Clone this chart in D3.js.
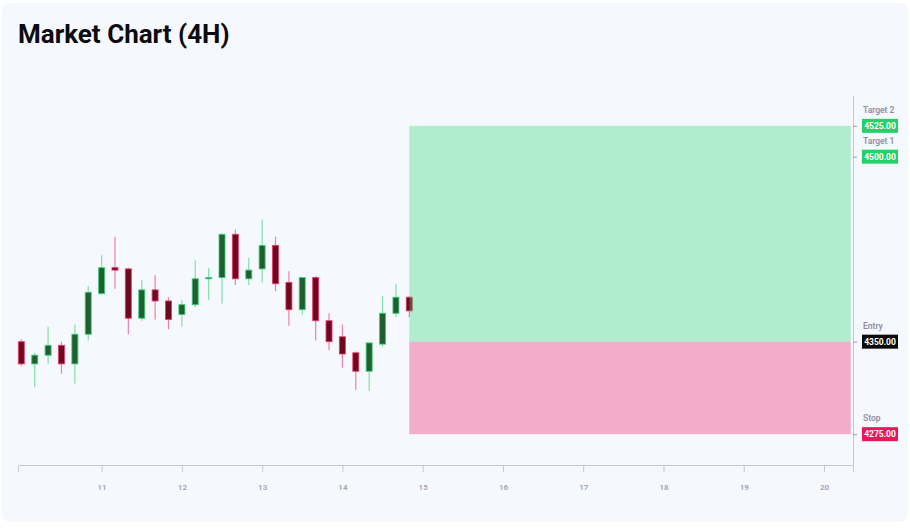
<!DOCTYPE html>
<html>
<head>
<meta charset="utf-8">
<script src="https://cdn.jsdelivr.net/npm/d3@7"></script>
<style>
  html, body { margin: 0; padding: 0; background: #ffffff; }
  svg { display: block; font-family: Roboto, "Open Sans", sans-serif; }
</style>
</head>
<body>
<svg id="chart" width="910" height="531"></svg>
<script>
// 4H candles, first one at 10th 00:00
const candleStart = "2024-01-10T00:00:00Z";
const opens  = [4350, 4332, 4339, 4347, 4332, 4356, 4389, 4410, 4409, 4369, 4392, 4383, 4372, 4380, 4401,
                4402, 4437, 4401, 4409, 4428, 4398, 4376, 4402, 4367, 4354, 4341, 4326, 4348, 4373, 4386];
const highs  = [4352, 4341, 4362, 4350, 4364, 4395, 4420, 4435, 4410, 4400, 4404, 4386, 4384, 4416, 4410,
                4438, 4441, 4418, 4449, 4435, 4407, 4402, 4403, 4373, 4364, 4342, 4349, 4387, 4397, 4387];
const lows   = [4330, 4313, 4332, 4324, 4316, 4351, 4388, 4393, 4356, 4367, 4368, 4360, 4362, 4378, 4384,
                4381, 4396, 4396, 4398, 4391, 4363, 4372, 4351, 4343, 4329, 4311, 4310, 4346, 4370, 4370];
const closes = [4332, 4339, 4347, 4332, 4356, 4390, 4410, 4408, 4369, 4392, 4383, 4368, 4380, 4401, 4402,
                4437, 4401, 4408, 4428, 4397, 4376, 4402, 4367, 4350, 4340, 4326, 4349, 4373, 4386, 4375];

// trade levels
const levelNames  = ["Target 2", "Target 1", "Entry", "Stop"];
const levelValues = [4525, 4500, 4350, 4275];
const zoneEnd = "2024-01-20T08:00:00Z";

// axis
const dayTicks = [11, 12, 13, 14, 15, 16, 17, 18, 19, 20];
const priceDomain = [4250, 4550];
const timeDomain = ["2024-01-09T23:00:00Z", "2024-01-20T08:40:00Z"];

const levelColors = { "Target 2": "#22d168", "Target 1": "#22d168", "Entry": "#0a0a0a", "Stop": "#f2145a" };

const svg = d3.select("#chart");
const W = 910, H = 531;
const plot = { left: 18, right: 853, top: 95, bottom: 465 };

// card
svg.append("rect")
  .attr("x", 2).attr("y", 3)
  .attr("width", W - 4).attr("height", H - 12)
  .attr("rx", 8)
  .attr("fill", "#f5f8fd");

svg.append("text")
  .attr("x", 18).attr("y", 43)
  .attr("font-size", 26)
  .attr("font-weight", 700)
  .attr("fill", "#0b0b10")
  .text("Market Chart (4H)");

const xScale = d3.scaleUtc()
  .domain(timeDomain.map(d => new Date(d)))
  .range([plot.left, plot.right]);

const yScale = d3.scaleLinear()
  .domain(priceDomain)
  .range([plot.bottom, plot.top]);

const t0 = new Date(candleStart);
const candles = opens.map((o, i) => ({
  date: d3.utcHour.offset(t0, i * 4),
  open: o, high: highs[i], low: lows[i], close: closes[i]
}));

const up = { fill: "#20602f", stroke: "#35cf76" };
const down = { fill: "#6b0a1d", stroke: "#f0306c" };

const g = svg.append("g");

// wicks
g.selectAll(".wick")
  .data(candles)
  .enter()
  .append("line")
  .attr("class", "wick")
  .attr("x1", d => xScale(d.date))
  .attr("x2", d => xScale(d.date))
  .attr("y1", d => yScale(d.high))
  .attr("y2", d => yScale(d.low))
  .attr("stroke", d => (d.close >= d.open ? up : down).stroke)
  .attr("stroke-opacity", 0.6)
  .attr("stroke-width", 1.2);

// bodies
g.selectAll(".body")
  .data(candles)
  .enter()
  .append("rect")
  .attr("class", "body")
  .attr("x", d => xScale(d.date) - 3)
  .attr("width", 6)
  .attr("y", d => yScale(Math.max(d.open, d.close)))
  .attr("height", d => Math.max(1, Math.abs(yScale(d.open) - yScale(d.close))))
  .attr("fill", d => (d.close >= d.open ? up : down).fill)
  .attr("stroke", d => (d.close >= d.open ? up : down).stroke)
  .attr("stroke-opacity", 0.8)
  .attr("stroke-width", 1);

// profit / loss zones
const lastDate = candles[candles.length - 1].date;
const zx0 = xScale(lastDate), zx1 = xScale(new Date(zoneEnd));
const entry = levelValues[2], target2 = levelValues[0], stop = levelValues[3];

svg.append("rect")
  .attr("x", zx0).attr("width", zx1 - zx0)
  .attr("y", yScale(target2))
  .attr("height", yScale(entry) - yScale(target2))
  .attr("fill", "#2ed573")
  .attr("fill-opacity", 0.34);

svg.append("rect")
  .attr("x", zx0).attr("width", zx1 - zx0)
  .attr("y", yScale(entry))
  .attr("height", yScale(stop) - yScale(entry))
  .attr("fill", "#f0286e")
  .attr("fill-opacity", 0.36);

// bottom axis
const xAxis = svg.append("g")
  .attr("transform", `translate(0,${plot.bottom})`)
  .call(d3.axisBottom(xScale)
    .tickValues(dayTicks.map(d => new Date(Date.UTC(2024, 0, d))))
    .tickFormat(d3.utcFormat("%-d"))
    .tickSize(7)
    .tickPadding(12));
xAxis.select(".domain").attr("stroke", "#c6c7d0");
xAxis.selectAll(".tick line").attr("stroke", "#c6c7d0");
xAxis.selectAll(".tick text")
  .attr("fill", "#a0a1b5")
  .attr("font-size", 8)
  .attr("font-weight", 600)
  .attr("font-family", "Roboto, sans-serif");

// right axis
const yAxis = svg.append("g")
  .attr("transform", `translate(${plot.right},0)`)
  .call(d3.axisRight(yScale)
    .tickValues(levelValues)
    .tickSize(4)
    .tickSizeOuter(0)
    .tickFormat(""));
yAxis.select(".domain").attr("stroke", "#c6c7d0");
yAxis.selectAll(".tick line").attr("stroke", "#9a9bb0");

// level labels
const labels = svg.append("g")
  .selectAll(".level")
  .data(levelNames.map((n, i) => ({ name: n, value: levelValues[i] })))
  .enter()
  .append("g")
  .attr("class", "level")
  .attr("transform", d => `translate(862,${yScale(d.value)})`);

labels.append("text")
  .attr("x", 1).attr("y", -13)
  .attr("font-size", 8.5)
  .attr("font-weight", 600)
  .attr("fill", "#8e8fa6")
  .text(d => d.name);

labels.append("rect")
  .attr("x", 0).attr("y", -7)
  .attr("width", 36).attr("height", 14)
  .attr("fill", d => levelColors[d.name]);

labels.append("text")
  .attr("x", 18).attr("y", 3)
  .attr("text-anchor", "middle")
  .attr("font-size", 8.5)
  .attr("font-weight", 700)
  .attr("fill", "#ffffff")
  .text(d => d3.format(".2f")(d.value));
</script>
</body>
</html>
